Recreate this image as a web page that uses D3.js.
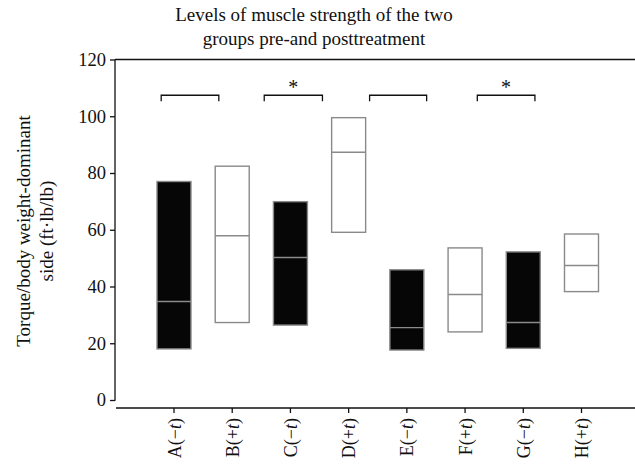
<!DOCTYPE html>
<html><head><meta charset="utf-8">
<script src="https://cdn.jsdelivr.net/npm/d3@7"></script>
<style>body{margin:0;background:#fff}svg{display:block}text{font-family:"Liberation Serif","DejaVu Serif",serif;fill:#111}</style>
</head><body>
<svg id="c" width="635" height="473"></svg>
<script>
const categories = ["A","B","C","D","E","F","G","H"];
const signs = ["−","+","−","+","−","+","−","+"];
const lows = [18.0, 27.3, 26.4, 59.1, 17.6, 24.0, 18.2, 38.2];
const highs = [77.0, 82.4, 69.9, 99.5, 45.9, 53.6, 52.2, 58.5];
const medians = [34.7, 57.9, 50.2, 87.3, 25.5, 37.2, 27.3, 47.4];
const filled = [true, false, true, false, true, false, true, false];
const yTicks = [0, 20, 40, 60, 80, 100, 120];
const brackets = [[-0.22, 0.77, false], [1.55, 2.55, true], [3.36, 4.34, false], [5.21, 6.20, true]];
const bracketLevel = 107.4;

const svg = d3.select("#c");
const y = d3.scaleLinear().domain([0, 120]).range([400, 59.5]);
const x = d3.scaleLinear().domain([0, 7]).range([174, 581.5]);
const bw = 34;

// title
svg.append("text").attr("x", 314).attr("y", 21).attr("text-anchor", "middle").attr("font-size", 19).text("Levels of muscle strength of the two");
svg.append("text").attr("x", 314).attr("y", 45).attr("text-anchor", "middle").attr("font-size", 19).text("groups pre-and posttreatment");

// y axis
const yAxis = svg.append("g").attr("transform", "translate(115,0)")
  .call(d3.axisLeft(y).tickValues(yTicks).tickSize(5).tickPadding(4));
yAxis.select(".domain").attr("d", `M-0.5,${y(0)}H0V${y(120)}`).attr("stroke", "#111").attr("stroke-width", 1.3);
yAxis.selectAll(".tick line").attr("stroke", "#111").attr("stroke-width", 1.3);
yAxis.selectAll(".tick text").attr("font-size", 18.5).attr("font-family", "Liberation Serif").attr("fill", "#111");

// top frame line
svg.append("line").attr("x1", 115).attr("x2", 635).attr("y1", y(120)).attr("y2", y(120)).attr("stroke", "#111").attr("stroke-width", 1.3);

// x axis (offset)
const xAxisY = 408;
svg.append("line").attr("x1", 116).attr("x2", 635).attr("y1", xAxisY).attr("y2", xAxisY).attr("stroke", "#111").attr("stroke-width", 1.3);
categories.forEach((c, i) => {
  svg.append("line").attr("x1", x(i)).attr("x2", x(i)).attr("y1", xAxisY).attr("y2", xAxisY + 5).attr("stroke", "#111").attr("stroke-width", 1.3);
  const t = svg.append("text").attr("transform", `translate(${x(i) + 6.5},${xAxisY + 10}) rotate(-90)`)
    .attr("text-anchor", "end").attr("font-size", 18);
  t.append("tspan").text(c + "(" + signs[i]);
  t.append("tspan").attr("font-style", "italic").text("t");
  t.append("tspan").text(")");
});

// y label
const yl = svg.append("g").attr("transform", "translate(0,231) rotate(-90)");
yl.append("text").attr("x", 0).attr("y", 30).attr("text-anchor", "middle").attr("font-size", 19).text("Torque/body weight-dominant");
yl.append("text").attr("x", 0).attr("y", 53).attr("text-anchor", "middle").attr("font-size", 19).text("side (ft·lb/lb)");

// boxes
categories.forEach((c, i) => {
  svg.append("rect").attr("x", x(i) - bw / 2).attr("y", y(highs[i])).attr("width", bw)
    .attr("height", y(lows[i]) - y(highs[i]))
    .attr("fill", filled[i] ? "#060606" : "#fff").attr("stroke", "#8a8a8a").attr("stroke-width", 1.4);
  svg.append("line").attr("x1", x(i) - bw / 2).attr("x2", x(i) + bw / 2)
    .attr("y1", y(medians[i])).attr("y2", y(medians[i])).attr("stroke", "#8a8a8a").attr("stroke-width", 1.4);
});

// brackets
brackets.forEach(([a, b, star]) => {
  const yb = y(bracketLevel);
  svg.append("path").attr("d", `M${x(a)},${yb + 6}V${yb}H${x(b)}V${yb + 6}`)
    .attr("fill", "none").attr("stroke", "#111").attr("stroke-width", 1.3);
  if (star) svg.append("text").attr("x", (x(a) + x(b)) / 2).attr("y", yb - 1).attr("text-anchor", "middle").attr("font-size", 20).attr("fill", "#222").text("*");
});
</script>
</body></html>
